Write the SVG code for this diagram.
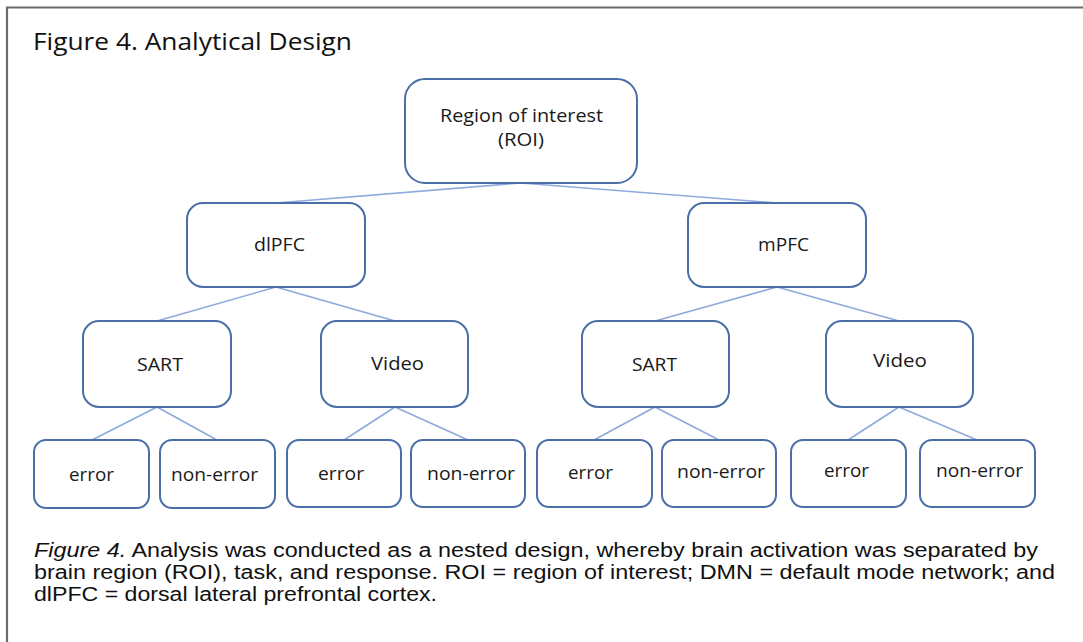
<svg xmlns="http://www.w3.org/2000/svg" width="1083" height="642" viewBox="0 0 1083 642">
<style>
.node rect{fill:#ffffff;stroke:#4a6ea8;stroke-width:2}
.lbl{font-family:"Open Sans","Noto Sans",sans-serif;font-size:17.5px;fill:#1a1a1a;text-anchor:start}
.conn line{stroke:#8eaadc;stroke-width:1.6}
.cap{font-family:"Liberation Sans",Arial,sans-serif;font-size:19.5px;fill:#111111}
</style>
<rect x="0" y="0" width="1083" height="642" fill="#ffffff"/>
<path d="M7,642 V7.5 H1083" fill="none" stroke="#6b6b6b" stroke-width="2.2"/>
<text x="33" y="50" font-family="'Open Sans','Noto Sans',sans-serif" font-size="24" fill="#111111" textLength="319" lengthAdjust="spacingAndGlyphs">Figure 4. Analytical Design</text>

<g class="conn" id="connectors">
<line x1="521" y1="183" x2="276" y2="203"/>
<line x1="521" y1="183" x2="777" y2="203"/>
<line x1="276" y1="287" x2="157" y2="321"/>
<line x1="276" y1="287" x2="395" y2="321"/>
<line x1="777" y1="287" x2="655" y2="321"/>
<line x1="777" y1="287" x2="899" y2="321"/>
<line x1="157" y1="407" x2="92" y2="440"/>
<line x1="157" y1="407" x2="217" y2="440"/>
<line x1="395" y1="407" x2="344" y2="440"/>
<line x1="395" y1="407" x2="468" y2="440"/>
<line x1="655" y1="407" x2="594" y2="440"/>
<line x1="655" y1="407" x2="719" y2="440"/>
<line x1="899" y1="407" x2="848" y2="440"/>
<line x1="899" y1="407" x2="977" y2="440"/>
</g>

<g class="node" id="roi">
<rect x="405" y="79" width="232" height="104" rx="20"/>
<text class="lbl" x="440" y="122" textLength="163" lengthAdjust="spacingAndGlyphs">Region of interest</text>
<text class="lbl" x="498" y="146" textLength="46" lengthAdjust="spacingAndGlyphs">(ROI)</text>
</g>
<g class="node" id="dlpfc">
<rect x="187" y="203" width="178" height="84" rx="16"/>
<text class="lbl" x="254" y="251" textLength="51" lengthAdjust="spacingAndGlyphs">dlPFC</text>
</g>
<g class="node" id="mpfc">
<rect x="688" y="203" width="178" height="84" rx="16"/>
<text class="lbl" x="758" y="251" textLength="51" lengthAdjust="spacingAndGlyphs">mPFC</text>
</g>
<g class="node" id="sart1">
<rect x="83" y="321" width="148" height="86" rx="16"/>
<text class="lbl" x="137" y="371" textLength="46" lengthAdjust="spacingAndGlyphs">SART</text>
</g>
<g class="node" id="video1">
<rect x="321" y="321" width="147" height="86" rx="16"/>
<text class="lbl" x="371" y="370" textLength="53" lengthAdjust="spacingAndGlyphs">Video</text>
</g>
<g class="node" id="sart2">
<rect x="582" y="321" width="147" height="86" rx="16"/>
<text class="lbl" x="632" y="371" textLength="45" lengthAdjust="spacingAndGlyphs">SART</text>
</g>
<g class="node" id="video2">
<rect x="826" y="321" width="147" height="86" rx="16"/>
<text class="lbl" x="873" y="367" textLength="54" lengthAdjust="spacingAndGlyphs">Video</text>
</g>

<g class="node" id="err1">
<rect x="34" y="440" width="115" height="68" rx="12"/>
<text class="lbl" x="69" y="481" textLength="45" lengthAdjust="spacingAndGlyphs">error</text>
</g>
<g class="node" id="nonerr1">
<rect x="160" y="440" width="115" height="68" rx="12"/>
<text class="lbl" x="171" y="481" textLength="87" lengthAdjust="spacingAndGlyphs">non-error</text>
</g>
<g class="node" id="err2">
<rect x="287" y="440" width="114" height="67" rx="12"/>
<text class="lbl" x="318" y="480" textLength="46" lengthAdjust="spacingAndGlyphs">error</text>
</g>
<g class="node" id="nonerr2">
<rect x="411" y="440" width="114" height="67" rx="12"/>
<text class="lbl" x="427" y="480" textLength="88" lengthAdjust="spacingAndGlyphs">non-error</text>
</g>
<g class="node" id="err3">
<rect x="537" y="440" width="115" height="67" rx="12"/>
<text class="lbl" x="568" y="479" textLength="45" lengthAdjust="spacingAndGlyphs">error</text>
</g>
<g class="node" id="nonerr3">
<rect x="662" y="440" width="114" height="67" rx="12"/>
<text class="lbl" x="677" y="478" textLength="88" lengthAdjust="spacingAndGlyphs">non-error</text>
</g>
<g class="node" id="err4">
<rect x="791" y="440" width="115" height="67" rx="12"/>
<text class="lbl" x="824" y="477" textLength="45" lengthAdjust="spacingAndGlyphs">error</text>
</g>
<g class="node" id="nonerr4">
<rect x="920" y="440" width="115" height="67" rx="12"/>
<text class="lbl" x="936" y="477" textLength="87" lengthAdjust="spacingAndGlyphs">non-error</text>
</g>

<g id="caption">
<text class="cap" x="34" y="557" textLength="1004" lengthAdjust="spacingAndGlyphs"><tspan font-style="italic">Figure 4.</tspan> Analysis was conducted as a nested design, whereby brain activation was separated by</text>
<text class="cap" x="34" y="579" textLength="1021" lengthAdjust="spacingAndGlyphs">brain region (ROI), task, and response. ROI = region of interest; DMN = default mode network; and</text>
<text class="cap" x="34" y="601" textLength="403" lengthAdjust="spacingAndGlyphs">dlPFC = dorsal lateral prefrontal cortex.</text>
</g>
</svg>
